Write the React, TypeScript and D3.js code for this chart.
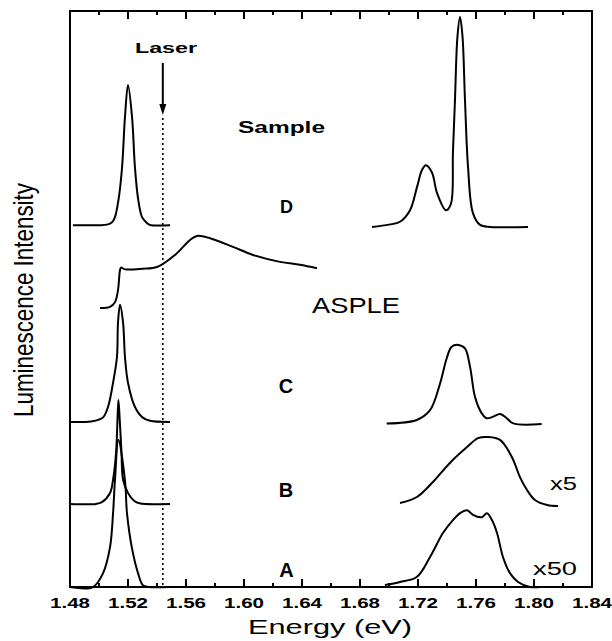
import React, { useMemo } from 'react';
import * as d3 from 'd3';

type Pt = [number, number];

// each trace: [energy (eV), intensity above its own baseline (arb. units)]
const D_LEFT: Pt[] = [
  [1.482, 0], [1.5, 0], [1.5055, 0.1], [1.509, 0.5], [1.511, 1.4], [1.5135, 4.5],
  [1.5159, 10], [1.5179, 18.7], [1.52, 24.3], [1.5228, 18.7], [1.5248, 10],
  [1.527, 4.5], [1.5297, 1.4], [1.533, 0.4], [1.5352, 0.05], [1.549, 0],
];
const D_RIGHT: Pt[] = [
  [1.6883, 0], [1.7, 0.4], [1.7076, 0.9], [1.7145, 2.9], [1.7193, 6.9], [1.7228, 9.9],
  [1.7255, 10.7], [1.7297, 9.4], [1.7331, 5.9], [1.7393, 2.9], [1.7427, 4],
  [1.7441, 13], [1.7455, 22], [1.7472, 33], [1.749, 36.4], [1.7507, 33],
  [1.7524, 22], [1.7545, 10.4], [1.7579, 2.4], [1.7628, 0.35], [1.77, 0], [1.7959, 0],
];
const ASPLE: Pt[] = [
  [1.5007, 0], [1.5076, 0.2], [1.511, 1.0], [1.5131, 3.1], [1.5145, 6.6], [1.5152, 7.0],
  [1.518, 6.7], [1.53, 6.8], [1.54, 7.1], [1.5524, 9.2], [1.5628, 11.8], [1.5676, 12.5],
  [1.5766, 12.1], [1.5924, 10.6], [1.6062, 9.2], [1.6248, 8.0], [1.6386, 7.5], [1.6503, 6.9],
];
const C_LEFT: Pt[] = [
  [1.48, 0], [1.49, 0], [1.4972, 0.2], [1.5028, 0.8], [1.5062, 2.6], [1.5097, 6.8],
  [1.5124, 11.3], [1.5131, 17.2], [1.5145, 20.3], [1.5166, 17.2], [1.5179, 11.3],
  [1.52, 6.8], [1.5248, 2.6], [1.53, 0.8], [1.5352, 0.2], [1.549, 0],
];
const C_RIGHT: Pt[] = [
  [1.6984, 0.1], [1.7191, 0.7], [1.7283, 2.4], [1.7352, 7.0], [1.7398, 11.4],
  [1.7432, 13.4], [1.7478, 13.7], [1.7524, 13.1], [1.7559, 9.9], [1.7593, 4.7],
  [1.764, 1.85], [1.7674, 1.0], [1.7719, 1.27], [1.7766, 1.73], [1.7812, 1.0],
  [1.7857, 0.1], [1.8053, 0],
];
const B_LEFT: Pt[] = [
  [1.48, 0], [1.498, 0], [1.502, 0.3], [1.5076, 1.9], [1.5097, 4.2], [1.5118, 9],
  [1.5128, 15], [1.5134, 18], [1.5142, 15], [1.5155, 9], [1.5166, 4.2], [1.52, 1.9],
  [1.524, 0.6], [1.528, 0.1], [1.549, 0],
];
const B_RIGHT: Pt[] = [
  [1.7076, 0.35], [1.7193, 1.4], [1.7303, 4.0], [1.742, 7.3], [1.7538, 10.05],
  [1.7614, 11.6], [1.7683, 11.8], [1.7766, 11.3], [1.7848, 8.3], [1.7903, 4.85],
  [1.7952, 2.6], [1.8007, 0.87], [1.809, 0], [1.8166, -0.17],
];
const A_LEFT: Pt[] = [
  [1.48, 0], [1.4959, 0], [1.5028, 2.4], [1.5076, 6.9], [1.5097, 12.8], [1.511, 18.5],
  [1.5134, 25.5], [1.5179, 18.5], [1.5193, 12.8], [1.5226, 6.9], [1.5269, 2.4],
  [1.5303, 0.3], [1.534, 0], [1.549, 0],
];
const A_RIGHT: Pt[] = [
  [1.6972, 0.35], [1.7076, 0.87], [1.7191, 1.73], [1.7283, 5.2], [1.7372, 9.36],
  [1.7441, 11.6], [1.749, 12.8], [1.7538, 13.3], [1.7579, 12.5], [1.7641, 12.1],
  [1.7676, 12.8], [1.771, 11.6], [1.7745, 9.36], [1.7786, 5.2], [1.7834, 2.4],
  [1.789, 0.87], [1.7972, 0], [1.8041, 0],
];

// vertical offsets of each trace's baseline (same units)
const TRACES: { points: Pt[]; offset: number }[] = [
  { points: A_LEFT, offset: 0 },
  { points: A_RIGHT, offset: 0 },
  { points: B_LEFT, offset: 14.4 },
  { points: B_RIGHT, offset: 14.2 },
  { points: C_LEFT, offset: 28.6 },
  { points: C_RIGHT, offset: 28.25 },
  { points: ASPLE, offset: 48.35 },
  { points: D_LEFT, offset: 62.7 },
  { points: D_RIGHT, offset: 62.4 },
];

const MAJOR_TICKS = [1.48, 1.52, 1.56, 1.6, 1.64, 1.68, 1.72, 1.76, 1.8, 1.84];
const TICK_LABELS = ['1.48', '1.52', '1.56', '1.60', '1.64', '1.68', '1.72', '1.76', '1.80', '1.84'];
const MINOR_TICKS = [1.5, 1.54, 1.58, 1.62, 1.66, 1.7, 1.74, 1.78, 1.82];
const LASER_ENERGY = 1.544;

const W = 612;
const H = 641;
const LEFT = 70;
const RIGHT = 592;
const TOP = 10;
const BOTTOM = 587;
const FONT = 'Liberation Sans, Arial, Helvetica, sans-serif';

export default function App() {
  const x = useMemo(() => d3.scaleLinear().domain([1.48, 1.84]).range([LEFT, RIGHT]), []);
  const y = useMemo(() => d3.scaleLinear().domain([0, 100]).range([BOTTOM, TOP]), []);

  const paths = useMemo(
    () =>
      TRACES.map((t) =>
        d3
          .line<Pt>()
          .x((d) => x(d[0]))
          .y((d) => y(d[1] + t.offset))
          .curve(d3.curveCatmullRom.alpha(0.5))(t.points) ?? ''
      ),
    [x, y]
  );

  const lx = x(LASER_ENERGY);

  return (
    <svg
      width={W}
      height={H}
      style={{ position: 'absolute', left: 0, top: 0, background: '#fff' }}
      fontFamily={FONT}
    >
      <rect x={0} y={0} width={W} height={H} fill="#fff" />

      {/* frame */}
      <rect x={LEFT} y={TOP + 1} width={RIGHT - LEFT} height={BOTTOM - TOP - 1} fill="none" stroke="#000" strokeWidth={2} />

      {/* ticks, bottom and top, pointing inward */}
      {MAJOR_TICKS.map((v) => (
        <g key={'M' + v}>
          <line x1={x(v)} x2={x(v)} y1={BOTTOM} y2={BOTTOM - 8} stroke="#000" strokeWidth={2} />
          <line x1={x(v)} x2={x(v)} y1={TOP + 1} y2={TOP + 9} stroke="#000" strokeWidth={2} />
        </g>
      ))}
      {MINOR_TICKS.map((v) => (
        <g key={'m' + v}>
          <line x1={x(v)} x2={x(v)} y1={BOTTOM} y2={BOTTOM - 4} stroke="#000" strokeWidth={2} />
          <line x1={x(v)} x2={x(v)} y1={TOP + 1} y2={TOP + 5} stroke="#000" strokeWidth={2} />
        </g>
      ))}
      {MAJOR_TICKS.map((v, i) => (
        <text
          key={'t' + v}
          x={x(v)}
          y={608}
          textAnchor="middle"
          fontSize={15}
          fontWeight="bold"
          textLength={40}
          lengthAdjust="spacingAndGlyphs"
        >
          {TICK_LABELS[i]}
        </text>
      ))}

      {/* axis titles */}
      <text x={330} y={634} textAnchor="middle" fontSize={21} textLength={164} lengthAdjust="spacingAndGlyphs">
        Energy (eV)
      </text>
      <text
        transform="translate(33,300) rotate(-90)"
        textAnchor="middle"
        fontSize={28}
        textLength={234}
        lengthAdjust="spacingAndGlyphs"
      >
        Luminescence Intensity
      </text>

      {/* laser marker */}
      <line x1={lx} x2={lx} y1={118} y2={BOTTOM} stroke="#000" strokeWidth={1.6} strokeDasharray="2,3" />
      <line x1={lx} x2={lx} y1={63} y2={106} stroke="#000" strokeWidth={2} />
      <path d={`M${lx - 3.5},104 L${lx + 3.5},104 L${lx},115 Z`} fill="#000" />
      <text x={166} y={53} textAnchor="middle" fontSize={15} fontWeight="bold" textLength={62} lengthAdjust="spacingAndGlyphs">
        Laser
      </text>

      {/* spectra */}
      {paths.map((d, i) => (
        <path key={i} d={d} fill="none" stroke="#000" strokeWidth={2} strokeLinejoin="round" />
      ))}

      {/* labels */}
      <text x={281.5} y={133} textAnchor="middle" fontSize={17} fontWeight="bold" textLength={87} lengthAdjust="spacingAndGlyphs">
        Sample
      </text>
      <text x={356} y={313} textAnchor="middle" fontSize={22} textLength={88} lengthAdjust="spacingAndGlyphs">
        ASPLE
      </text>
      <text x={286.5} y={213} textAnchor="middle" fontSize={18} fontWeight="bold">D</text>
      <text x={286} y={393} textAnchor="middle" fontSize={20} fontWeight="bold">C</text>
      <text x={286} y={497} textAnchor="middle" fontSize={20} fontWeight="bold">B</text>
      <text x={286.5} y={577} textAnchor="middle" fontSize={20} fontWeight="bold">A</text>
      <text x={563.5} y={490} textAnchor="middle" fontSize={19} textLength={27} lengthAdjust="spacingAndGlyphs">x5</text>
      <text x={555} y={575} textAnchor="middle" fontSize={19} textLength={44} lengthAdjust="spacingAndGlyphs">x50</text>
    </svg>
  );
}
